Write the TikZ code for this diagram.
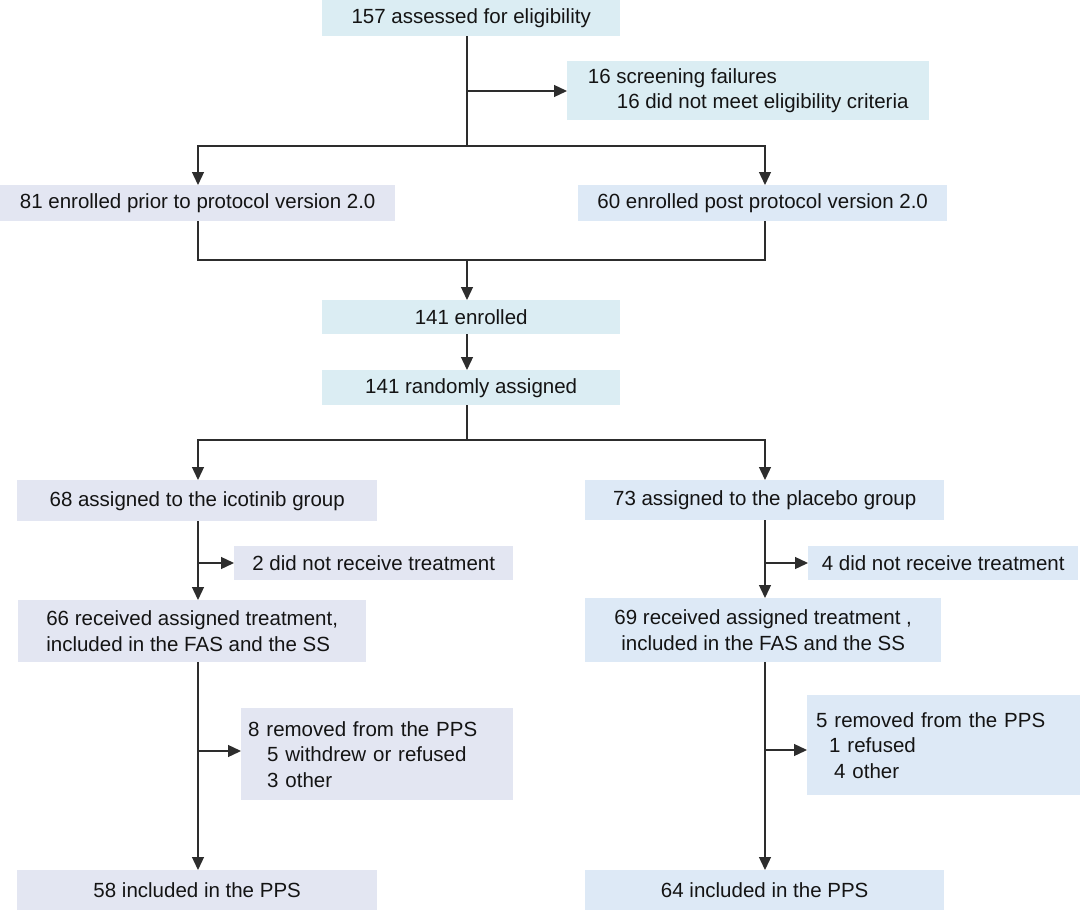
\documentclass[tikz,border=0pt]{standalone}
\usepackage{fontspec}
\setmainfont{Liberation Sans}
\usetikzlibrary{arrows.meta}

\definecolor{tealfill}{RGB}{219,237,243}
\definecolor{lavfill}{RGB}{227,230,242}
\definecolor{bluefill}{RGB}{221,233,246}
\definecolor{linecol}{RGB}{45,45,45}

\begin{document}
\begin{tikzpicture}[x=1pt,y=-1pt,
	box/.style={anchor=north west, inner sep=0pt, text=black!92,
		font=\fontsize{20.5}{25.5}\selectfont},
	tealbox/.style={box, fill=tealfill},
	lavbox/.style={box, fill=lavfill},
	bluebox/.style={box, fill=bluefill},
	conn/.style={draw=linecol, line width=1.3pt},
	arrow/.style={conn, -{Triangle[length=13pt,width=12pt]}}]

	%Background
	\useasboundingbox[fill=white] (0,0) rectangle (1080,910);

	%Screening
	\node[tealbox, minimum width=298, minimum height=36] (b157) at (322,0) {157 assessed for eligibility};
	\node[tealbox, minimum width=362, minimum height=59, align=left] (bfail) at (567,61)
		{16 screening failures\\\hspace*{29pt}16 did not meet eligibility criteria};

	%Protocol versions
	\node[lavbox, minimum width=395, minimum height=36] (b81) at (0,185) {81 enrolled prior to protocol version 2.0};
	\node[bluebox, minimum width=369, minimum height=36] (b60) at (578,185) {60 enrolled post protocol version 2.0};

	%Enrolment
	\node[tealbox, minimum width=298, minimum height=34] (b141) at (322,300) {141 enrolled};
	\node[tealbox, minimum width=298, minimum height=35] (brand) at (322,370) {141 randomly assigned};

	%Icotinib
	\node[lavbox, minimum width=360, minimum height=41] (b68) at (17,480) {68 assigned to the icotinib group};
	\node[lavbox, minimum width=279, minimum height=34] (bno2) at (234,546) {2 did not receive treatment};
	\node[lavbox, minimum width=348, minimum height=62, align=left] (b66) at (18,600)
		{66 received assigned treatment,\\included in the FAS and the SS};
	\node[lavbox, minimum width=272, minimum height=92, align=left, inner xsep=7pt, text width=258pt] (b8) at (241,708)
		{8 removed from the PPS\\\hspace*{19pt}5 withdrew or refused\\\hspace*{19pt}3 other};
	\node[lavbox, minimum width=360, minimum height=40] (b58) at (17,870) {58 included in the PPS};

	%Placebo
	\node[bluebox, minimum width=359, minimum height=40] (b73) at (585,480) {73 assigned to the placebo group};
	\node[bluebox, minimum width=270, minimum height=34] (bno4) at (808,546) {4 did not receive treatment};
	\node[bluebox, minimum width=356, minimum height=64, align=center] (b69) at (585,598)
		{69 received assigned treatment ,\\included in the FAS and the SS};
	\node[bluebox, minimum width=273, minimum height=100, align=left, inner xsep=9pt, text width=255pt] (b5) at (807,695)
		{5 removed from the PPS\\\hspace*{13pt}1 refused\\\hspace*{18pt}4 other};
	\node[bluebox, minimum width=359, minimum height=40] (b64) at (585,870) {64 included in the PPS};

	%Junctions
	\coordinate (lt) at (198,0);
	\coordinate (rt) at (765,0);
	\coordinate (fork1) at (467,91);
	\coordinate (split1) at (467,146);
	\coordinate (merge1) at (467,260);
	\coordinate (split2) at (467,440);
	\coordinate (noL) at (198,563);
	\coordinate (noR) at (765,563);
	\coordinate (ppsL) at (198,751);
	\coordinate (ppsR) at (765,750);

	%Connectors
	\draw[conn] (b157.south -| split1) -- (split1);
	\draw[arrow] (fork1) -- (fork1 -| bfail.west);
	\draw[arrow] (split1) -| (b81.north -| lt);
	\draw[arrow] (split1) -| (b60.north -| rt);
	\draw[conn] (b81.south -| lt) |- (merge1) -| (b60.south -| rt);
	\draw[arrow] (merge1) -- (b141.north -| merge1);
	\draw[arrow] (b141.south -| merge1) -- (brand.north -| merge1);
	\draw[conn] (brand.south -| split2) -- (split2);
	\draw[arrow] (split2) -| (b68.north -| lt);
	\draw[arrow] (split2) -| (b73.north -| rt);

	\draw[arrow] (b68.south -| lt) -- (b66.north -| lt);
	\draw[arrow] (noL) -- (noL -| bno2.west);
	\draw[arrow] (b66.south -| lt) -- (b58.north -| lt);
	\draw[arrow] (ppsL) -- (ppsL -| b8.west);

	\draw[arrow] (b73.south -| rt) -- (b69.north -| rt);
	\draw[arrow] (noR) -- (noR -| bno4.west);
	\draw[arrow] (b69.south -| rt) -- (b64.north -| rt);
	\draw[arrow] (ppsR) -- (ppsR -| b5.west);

\end{tikzpicture}
\end{document}
